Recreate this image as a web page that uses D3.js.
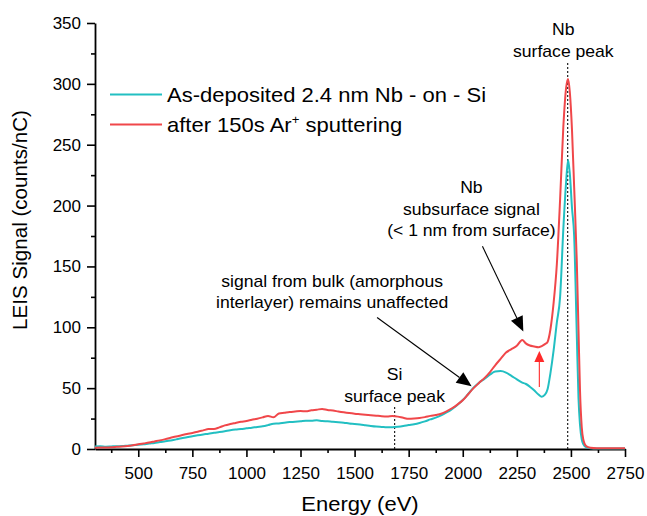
<!DOCTYPE html>
<html>
<head>
<meta charset="utf-8">
<script src="https://cdn.jsdelivr.net/npm/d3@7"></script>
<style>
  body { margin: 0; background: #fff; }
  text { font-family: Arial, "Liberation Sans", sans-serif; fill: #000; }
</style>
</head>
<body>
<svg id="chart" width="647" height="516"></svg>
<script>
// LEIS spectra: energy grid (eV) and signal (counts/nC) for both samples
const energy = [
  300, 325, 350, 375, 400, 425, 450, 475, 500, 525, 550, 575, 600, 625, 650, 675,
  700, 725, 750, 775, 800, 825, 850, 875, 900, 925, 950, 975, 1000, 1025, 1050, 1075,
  1100, 1125, 1150, 1175, 1200, 1225, 1250, 1275, 1300, 1325, 1350, 1375, 1400, 1425, 1450, 1475,
  1500, 1525, 1550, 1575, 1600, 1625, 1650, 1675, 1700, 1725, 1750, 1775, 1800, 1825, 1850, 1875,
  1900, 1925, 1950, 1975, 2000, 2025, 2050, 2075, 2100, 2125, 2150, 2175, 2200, 2225, 2250, 2275,
  2290, 2310, 2330, 2350, 2365, 2380, 2392, 2405, 2420, 2435, 2450, 2465, 2478, 2487, 2495, 2505,
  2515, 2527, 2535, 2542, 2550, 2557, 2570, 2590, 2620, 2700, 2750];

const asDeposited = [
  2.0, 2.2, 1.9, 2.1, 2.3, 2.4, 2.7, 3.0, 3.4, 3.9, 4.5, 5.0, 5.7, 6.3, 7.0, 7.9,
  8.8, 9.6, 10.5, 11.3, 12.0, 12.6, 13.3, 13.9, 14.6, 15.4, 16.0, 16.4, 17.0, 17.5, 18.1, 18.6,
  19.6, 20.8, 21.0, 21.6, 22.1, 22.4, 22.8, 23.3, 23.2, 23.6, 23.0, 22.7, 22.3, 22.0, 21.6, 21.0,
  20.6, 20.1, 19.5, 18.9, 18.4, 18.1, 17.8, 17.9, 18.3, 18.9, 19.7, 20.4, 21.4, 22.7, 24.3, 25.8,
  27.6, 30.0, 32.8, 36.2, 40.2, 45.2, 50.4, 54.5, 57.6, 61.0, 63.6, 64.0, 62.8, 60.1, 57.2, 54.6,
  53.6, 51.2, 48.2, 44.8, 43.0, 44.6, 49.0, 62.0, 81.0, 104.0, 125.0, 181.0, 220.0, 237.5, 226.0, 198.0,
  175.0, 95.0, 42.0, 20.0, 8.0, 4.0, 1.5, 0.7, 0.5, 0.4, 0.4];

const sputtered = [
  1.0, 1.2, 1.3, 1.5, 1.8, 2.1, 2.5, 3.1, 3.9, 4.6, 5.3, 6.2, 7.1, 8.1, 9.2, 10.3,
  11.3, 12.3, 13.2, 14.2, 15.3, 16.4, 16.4, 17.8, 19.4, 20.5, 21.4, 22.3, 23.0, 24.0, 24.9, 26.0,
  27.2, 26.0, 29.2, 29.8, 30.4, 30.8, 31.2, 31.0, 31.8, 32.3, 32.9, 32.0, 31.6, 30.8, 30.1, 29.5,
  29.0, 28.6, 28.2, 27.8, 27.4, 27.0, 26.8, 27.1, 26.6, 25.6, 24.8, 25.0, 25.4, 26.2, 27.2, 28.0,
  29.0, 31.0, 33.5, 36.5, 40.0, 45.0, 50.0, 54.2, 58.2, 63.0, 68.8, 74.0, 79.2, 82.0, 84.8, 89.6,
  87.0, 85.0, 84.2, 83.6, 84.6, 86.2, 88.0, 98.0, 120.0, 152.0, 205.0, 265.0, 297.0, 304.0, 293.0, 262.0,
  215.0, 155.0, 98.0, 48.0, 18.0, 8.0, 2.5, 1.0, 0.6, 0.6, 0.6];

const seriesNames = ["As-deposited 2.4 nm Nb - on - Si", "after 150s Ar"];
const seriesColors = ["#22bfc2", "#f0474a"];

const xMajorTicks = [500, 750, 1000, 1250, 1500, 1750, 2000, 2250, 2500, 2750];
const xMinorTicks = [375, 625, 875, 1125, 1375, 1625, 1875, 2125, 2375, 2625];
const yMajorTicks = [0, 50, 100, 150, 200, 250, 300, 350];
const yMinorTicks = [25, 75, 125, 175, 225, 275, 325];

// Reference energies of the surface peaks
const nbSurfaceEnergy = 2485;
const siSurfaceEnergy = 1685;

const svg = d3.select("#chart");
const margin = { left: 95, right: 22, top: 23, bottom: 67 };
const W = 647, H = 516;
const stretch = 1.1; // horizontal widening of the lettering

const x = d3.scaleLinear().domain([300, 2750]).range([margin.left, W - margin.right]);
const y = d3.scaleLinear().domain([0, 350]).range([H - margin.bottom, margin.top]);

// Text helper: anchored text with a slight horizontal widening
function addText(parent, str, tx, ty, size, anchor) {
  return parent.append("text")
    .attr("transform", `translate(${tx},${ty}) scale(${stretch},1)`)
    .attr("text-anchor", anchor || "middle")
    .style("font-size", size + "px")
    .text(str);
}

// Axes
function styleAxis(g) {
  g.selectAll("path.domain").attr("stroke", "#000").attr("stroke-width", 1.8);
  g.selectAll(".tick line").attr("stroke", "#000").attr("stroke-width", 1.6);
  g.selectAll(".tick text").style("font-size", "17px").attr("fill", "#000");
}

const xAxisG = svg.append("g").attr("transform", `translate(0,${y(0)})`)
  .call(d3.axisBottom(x).tickValues(xMajorTicks).tickSize(8).tickSizeOuter(0).tickPadding(10)
    .tickFormat(d3.format("d")));
svg.append("g").attr("transform", `translate(0,${y(0)})`)
  .call(d3.axisBottom(x).tickValues(xMinorTicks).tickSize(4).tickFormat(""))
  .call(g => g.select(".domain").remove())
  .call(styleAxis);
styleAxis(xAxisG);

const yAxisG = svg.append("g").attr("transform", `translate(${x(300)},0)`)
  .call(d3.axisLeft(y).tickValues(yMajorTicks).tickSize(8).tickSizeOuter(0).tickPadding(6)
    .tickFormat(d3.format("d")));
svg.append("g").attr("transform", `translate(${x(300)},0)`)
  .call(d3.axisLeft(y).tickValues(yMinorTicks).tickSize(4).tickFormat(""))
  .call(g => g.select(".domain").remove())
  .call(styleAxis);
styleAxis(yAxisG);

// Axis titles
addText(svg, "Energy (eV)", (x.range()[0] + x.range()[1]) / 2, 511, 20);

svg.append("text")
  .attr("transform", `translate(27,220) rotate(-90)`)
  .attr("text-anchor", "middle")
  .style("font-size", "20.6px")
  .text("LEIS Signal (counts/nC)");

// Dotted reference lines for the surface peaks
svg.append("line")
  .attr("x1", x(nbSurfaceEnergy)).attr("x2", x(nbSurfaceEnergy))
  .attr("y1", y(0)).attr("y2", y(318))
  .attr("stroke", "#222").attr("stroke-width", 1.2).attr("stroke-dasharray", "2,2");
svg.append("line")
  .attr("x1", x(siSurfaceEnergy)).attr("x2", x(siSurfaceEnergy))
  .attr("y1", y(0)).attr("y2", y(35))
  .attr("stroke", "#222").attr("stroke-width", 1.2).attr("stroke-dasharray", "2,2");

// Spectra
const line = d3.line().curve(d3.curveMonotoneX);
[asDeposited, sputtered].forEach((vals, i) => {
  svg.append("path")
    .attr("d", line(energy.map((e, j) => [x(e), y(vals[j])])))
    .attr("fill", "none")
    .attr("stroke", seriesColors[i])
    .attr("stroke-width", 2)
    .attr("stroke-linejoin", "round");
});

// Legend
const legend = svg.append("g");
const legendRows = [94.5, 124.5];
legendRows.forEach((ly, i) => {
  legend.append("line")
    .attr("x1", 110).attr("x2", 162).attr("y1", ly).attr("y2", ly)
    .attr("stroke", seriesColors[i]).attr("stroke-width", 2);
  const t = addText(legend, null, 167, ly + 7.5, 20, "start");
  if (i === 0) {
    t.text(seriesNames[0]);
  } else {
    t.append("tspan").text(seriesNames[1]);
    t.append("tspan").attr("dy", -8).style("font-size", "12px").text("+");
    t.append("tspan").attr("dy", 8).text(" sputtering");
  }
});

// Annotations
function label(lines, cx, baselines) {
  lines.forEach((s, i) => addText(svg, s, cx, baselines[i], 16));
}
label(["Nb", "surface peak"], x(2465), [35, 57]);
label(["Nb", "subsurface signal", "(< 1 nm from surface)"], x(2040), [193, 214.5, 236]);
label(["signal from bulk (amorphous", "interlayer) remains unaffected"], x(1396), [286.5, 308]);
label(["Si", "surface peak"], x(1685), [380, 401.5]);

// Arrows
function arrow(e0, v0, e1, v1, color, width, headLen, headHalf) {
  const x0 = x(e0), y0 = y(v0), x1 = x(e1), y1 = y(v1);
  const ang = Math.atan2(y1 - y0, x1 - x0);
  const bx = x1 - headLen * Math.cos(ang), by = y1 - headLen * Math.sin(ang);
  svg.append("line")
    .attr("x1", x0).attr("y1", y0).attr("x2", bx).attr("y2", by)
    .attr("stroke", color).attr("stroke-width", width);
  const px = -Math.sin(ang) * headHalf, py = Math.cos(ang) * headHalf;
  svg.append("path")
    .attr("d", `M${x1},${y1}L${bx + px},${by + py}L${bx - px},${by - py}Z`)
    .attr("fill", color);
}
arrow(1604, 108, 2041, 51.5, "#000", 1.1, 15, 6.5);
arrow(2091, 166.5, 2280, 96.5, "#000", 1.1, 15, 6.5);
arrow(2354, 51, 2354, 80.5, "#ff2a2a", 1.1, 11, 5);
</script>
</body>
</html>
